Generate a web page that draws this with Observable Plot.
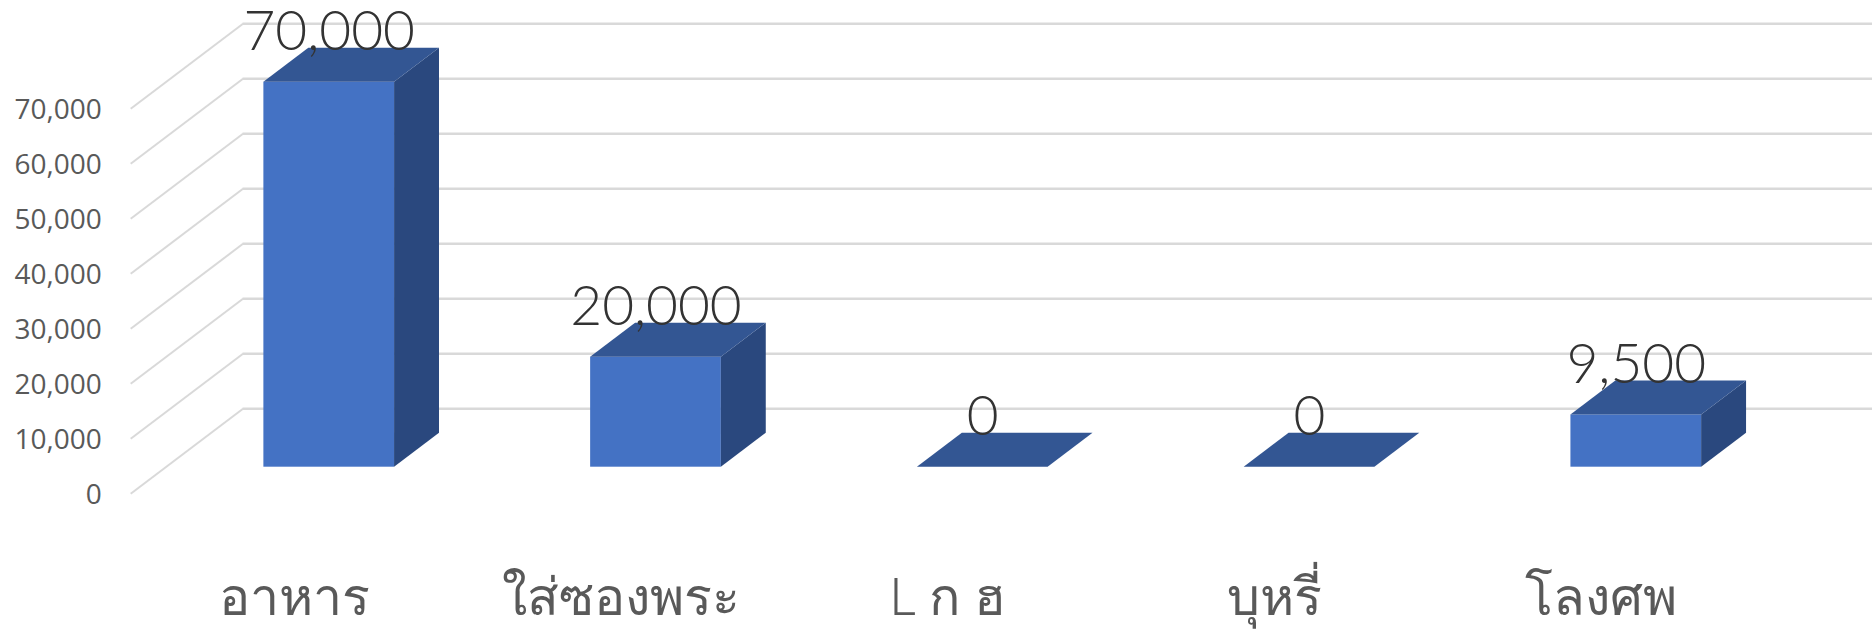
<!DOCTYPE html>
<html>
<head>
<meta charset="utf-8">
<style>html,body{margin:0;padding:0;background:#fff}svg{display:block}</style>
<script src="https://cdn.jsdelivr.net/npm/d3@7"></script>
<script src="https://cdn.jsdelivr.net/npm/@observablehq/plot@0.6"></script>
</head>
<body>
<script>
const categories = ["อาหาร", "ใส่ซองพระ", "L ก ฮ", "บุหรี่", "โลงศพ"];
const values = [70000, 20000, 0, 0, 9500];
const valueTicks = [0, 10000, 20000, 30000, 40000, 50000, 60000, 70000];

// Oblique projection: depth 0 is the axis plane, depth 1 is the back wall.
const wallDx = 0.3437, wallDy = 15455;
const barDepthFront = 0.313, barDepthBack = 0.713, barHalf = 0.2;
const px = (i, d) => i + d * wallDx;
const py = (v, d) => v + d * wallDy;

const bars = values.map((v, i) => ({
  name: categories[i], v,
  x1: px(i - barHalf, barDepthFront), x2: px(i + barHalf, barDepthFront),
  xb1: px(i - barHalf, barDepthBack), xb2: px(i + barHalf, barDepthBack),
  y0: py(0, barDepthFront), y1: py(v, barDepthFront),
  y0b: py(0, barDepthBack), y1b: py(v, barDepthBack),
  labelX: px(i, barDepthFront)
}));
const side = bars.flatMap(b => [
  {z: b.name, x: b.x2, lo: b.y0, hi: b.y1},
  {z: b.name, x: b.xb2, lo: b.y0b, hi: b.y1b}
]);
const top_ = bars.flatMap(b => [
  {z: b.name, x: b.x1, lo: b.y1, hi: b.y1},
  {z: b.name, x: b.xb1, lo: b.y1, hi: b.y1b},
  {z: b.name, x: b.x2, lo: b.y1, hi: b.y1b},
  {z: b.name, x: b.xb2, lo: b.y1b, hi: b.y1b}
]);

const chart = Plot.plot({
  width: 1872, height: 636,
  marginLeft: 130.2, marginRight: 108, marginTop: 108.3, marginBottom: 142.7,
  style: {background: "#fff", overflow: "visible"},
  x: {domain: [-0.5, 4.5]},
  y: {domain: [0, 70000]},
  marks: [
    Plot.link(valueTicks, {x1: () => -0.5, y1: d => d, x2: () => -0.5 + wallDx, y2: d => py(d, 1), stroke: "#d9d9d9", strokeWidth: 2}),
    Plot.ruleY(valueTicks, {y: d => py(d, 1), x1: () => -0.5 + wallDx, x2: () => 4.5 + wallDx, stroke: "#d9d9d9", strokeWidth: 2.5}),
    Plot.rect(bars.filter(b => b.v > 0), {x1: "x1", x2: "x2", y1: "y0", y2: "y1", fill: "#4472c4"}),
    Plot.area(side, {x1: "x", y1: "lo", y2: "hi", z: "z", fill: "#2a487e"}),
    Plot.area(top_, {x1: "x", y1: "lo", y2: "hi", z: "z", fill: "#335693"}),
    Plot.text(bars, {x: "labelX", y: "y1b", text: d => d3.format(",")(d.v), textAnchor: "middle", lineAnchor: "bottom", dy: 2,
      fontFamily: "Lato", fontWeight: 300, fontSize: 55, fill: "#333333"}),
    Plot.axisY({ticks: valueTicks, tickSize: 0, tickPadding: 29, tickFormat: d3.format(","), label: null, dy: 1.5,
      fontFamily: "Open Sans", fontSize: 28, color: "#595959"}),
    Plot.axisX({ticks: [0, 1, 2, 3, 4], tickFormat: i => categories[i], tickSize: 0, tickPadding: 84, label: null,
      fontFamily: "Noto Sans, Open Sans", fontWeight: 300, fontSize: 52, color: "#595959"})
  ]
});
document.body.appendChild(chart);
</script>
</body>
</html>
